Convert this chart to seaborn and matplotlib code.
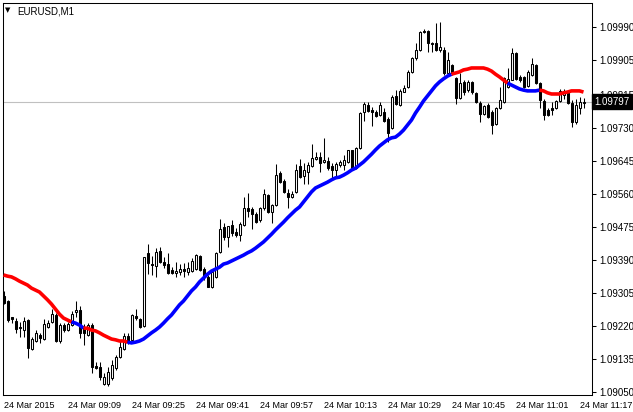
import matplotlib
matplotlib.use("Agg")
import matplotlib.pyplot as plt
import matplotlib.transforms as mtransforms
import seaborn as sns
import pandas as pd
import numpy as np

# ---------------- data (EURUSD M1, 24 Mar 2015, 08:53 .. 11:18) ----------------
open_ = [1.09297,1.09284,1.09243,1.09232,1.09217,1.09209,1.09235,1.09160,1.09181,1.09196,
         1.09186,1.09217,1.09230,1.09248,1.09181,1.09222,1.09209,1.09222,1.09256,1.09261,
         1.09214,1.09196,1.09222,1.09117,1.09114,1.09070,1.09070,1.09086,1.09111,1.09140,
         1.09160,1.09194,1.09184,1.09245,1.09238,1.09220,1.09408,1.09379,1.09374,1.09413,
         1.09384,1.09379,1.09364,1.09356,1.09359,1.09366,1.09359,1.09361,1.09366,1.09400,
         1.09366,1.09346,1.09320,1.09346,1.09410,1.09474,1.09449,1.09480,1.09462,1.09454,
         1.09480,1.09523,1.09521,1.09508,1.09493,1.09523,1.09557,1.09513,1.09531,1.09614,
         1.09593,1.09562,1.09552,1.09565,1.09632,1.09606,1.09616,1.09632,1.09650,1.09655,
         1.09642,1.09644,1.09632,1.09621,1.09634,1.09634,1.09642,1.09673,1.09626,1.09678,
         1.09771,1.09789,1.09776,1.09771,1.09763,1.09771,1.09753,1.09729,1.09812,1.09789,
         1.09822,1.09835,1.09874,1.09910,1.09930,1.09979,1.09979,1.09948,1.09948,1.09930,
         1.09930,1.09871,1.09892,1.09858,1.09807,1.09848,1.09827,1.09848,1.09820,1.09794,
         1.09765,1.09789,1.09771,1.09740,1.09781,1.09796,1.09835,1.09853,1.09923,1.09861,
         1.09861,1.09838,1.09866,1.09892,1.09845,1.09799,1.09776,1.09781,1.09781,1.09799,
         1.09814,1.09820,1.09794,1.09745,1.09781,1.09794]
high = [1.09310,1.09287,1.09243,1.09240,1.09230,1.09243,1.09238,1.09191,1.09209,1.09202,
        1.09238,1.09235,1.09263,1.09253,1.09227,1.09227,1.09230,1.09258,1.09284,1.09271,
        1.09225,1.09227,1.09227,1.09127,1.09127,1.09099,1.09114,1.09132,1.09145,1.09184,
        1.09202,1.09202,1.09250,1.09263,1.09240,1.09397,1.09431,1.09400,1.09420,1.09423,
        1.09397,1.09408,1.09371,1.09384,1.09379,1.09382,1.09384,1.09395,1.09405,1.09402,
        1.09371,1.09351,1.09364,1.09410,1.09495,1.09485,1.09477,1.09493,1.09472,1.09487,
        1.09552,1.09562,1.09526,1.09513,1.09526,1.09572,1.09559,1.09534,1.09637,1.09619,
        1.09598,1.09572,1.09567,1.09637,1.09650,1.09639,1.09642,1.09688,1.09668,1.09668,
        1.09704,1.09655,1.09639,1.09642,1.09647,1.09660,1.09673,1.09673,1.09680,1.09771,
        1.09796,1.09796,1.09783,1.09776,1.09796,1.09781,1.09758,1.09814,1.09827,1.09830,
        1.09840,1.09879,1.09912,1.09948,1.09979,1.09984,1.09982,1.09951,1.10000,1.10002,
        1.09938,1.09925,1.09894,1.09861,1.09871,1.09853,1.09853,1.09850,1.09822,1.09799,
        1.09789,1.09794,1.09776,1.09783,1.09835,1.09861,1.09884,1.09935,1.09925,1.09866,
        1.09863,1.09879,1.09910,1.09894,1.09848,1.09804,1.09781,1.09796,1.09802,1.09830,
        1.09830,1.09825,1.09802,1.09804,1.09809,1.09807]
low = [1.09276,1.09230,1.09227,1.09202,1.09191,1.09191,1.09137,1.09158,1.09178,1.09176,
       1.09184,1.09214,1.09227,1.09178,1.09176,1.09204,1.09207,1.09220,1.09243,1.09189,
       1.09171,1.09194,1.09099,1.09109,1.09081,1.09068,1.09065,1.09081,1.09106,1.09137,
       1.09158,1.09173,1.09181,1.09235,1.09214,1.09217,1.09353,1.09351,1.09346,1.09382,
       1.09369,1.09353,1.09353,1.09346,1.09351,1.09346,1.09351,1.09359,1.09364,1.09361,
       1.09338,1.09320,1.09317,1.09343,1.09408,1.09441,1.09423,1.09451,1.09449,1.09438,
       1.09477,1.09500,1.09469,1.09485,1.09487,1.09518,1.09511,1.09485,1.09529,1.09588,
       1.09562,1.09523,1.09549,1.09562,1.09601,1.09585,1.09585,1.09629,1.09647,1.09616,
       1.09639,1.09621,1.09596,1.09601,1.09629,1.09621,1.09639,1.09621,1.09624,1.09675,
       1.09747,1.09771,1.09735,1.09758,1.09760,1.09745,1.09693,1.09727,1.09789,1.09786,
       1.09822,1.09832,1.09871,1.09905,1.09928,1.09974,1.09925,1.09925,1.09928,1.09925,
       1.09866,1.09863,1.09866,1.09791,1.09804,1.09814,1.09822,1.09817,1.09794,1.09745,
       1.09763,1.09755,1.09714,1.09737,1.09778,1.09794,1.09832,1.09853,1.09853,1.09848,
       1.09832,1.09835,1.09863,1.09843,1.09781,1.09750,1.09760,1.09763,1.09778,1.09796,
       1.09804,1.09791,1.09732,1.09740,1.09765,1.09781]
close = [1.09279,1.09235,1.09238,1.09212,1.09214,1.09232,1.09163,1.09186,1.09202,1.09189,
         1.09225,1.09227,1.09250,1.09181,1.09222,1.09209,1.09225,1.09250,1.09261,1.09202,
         1.09202,1.09222,1.09114,1.09111,1.09088,1.09088,1.09101,1.09119,1.09140,1.09165,
         1.09194,1.09178,1.09248,1.09240,1.09217,1.09397,1.09382,1.09377,1.09410,1.09384,
         1.09377,1.09356,1.09356,1.09361,1.09366,1.09361,1.09369,1.09387,1.09402,1.09364,
         1.09346,1.09320,1.09359,1.09408,1.09469,1.09449,1.09477,1.09459,1.09454,1.09482,
         1.09523,1.09516,1.09508,1.09487,1.09523,1.09559,1.09513,1.09531,1.09608,1.09590,
         1.09565,1.09552,1.09559,1.09621,1.09603,1.09621,1.09634,1.09652,1.09655,1.09639,
         1.09647,1.09626,1.09621,1.09637,1.09642,1.09647,1.09673,1.09626,1.09678,1.09768,
         1.09791,1.09773,1.09771,1.09760,1.09789,1.09747,1.09717,1.09809,1.09791,1.09825,
         1.09832,1.09874,1.09910,1.09930,1.09977,1.09977,1.09948,1.09946,1.09930,1.09938,
         1.09871,1.09905,1.09871,1.09807,1.09845,1.09822,1.09848,1.09822,1.09796,1.09765,
         1.09786,1.09758,1.09737,1.09781,1.09802,1.09858,1.09856,1.09923,1.09856,1.09853,
         1.09835,1.09874,1.09894,1.09845,1.09802,1.09763,1.09763,1.09776,1.09799,1.09825,
         1.09822,1.09794,1.09745,1.09789,1.09796,1.09797]
ma = [1.09351,1.09348,1.09346,1.09341,1.09335,1.09330,1.09325,1.09317,1.09312,1.09307,
      1.09297,1.09287,1.09276,1.09263,1.09250,1.09240,1.09235,1.09230,1.09227,1.09222,
      1.09214,1.09214,1.09209,1.09207,1.09202,1.09196,1.09191,1.09186,1.09184,1.09181,
      1.09181,1.09178,1.09176,1.09178,1.09181,1.09186,1.09194,1.09202,1.09209,1.09217,
      1.09227,1.09238,1.09248,1.09261,1.09274,1.09284,1.09297,1.09310,1.09320,1.09333,
      1.09343,1.09353,1.09361,1.09366,1.09371,1.09379,1.09382,1.09387,1.09392,1.09397,
      1.09402,1.09408,1.09413,1.09420,1.09428,1.09436,1.09446,1.09456,1.09467,1.09477,
      1.09487,1.09498,1.09508,1.09518,1.09526,1.09539,1.09552,1.09565,1.09575,1.09580,
      1.09585,1.09590,1.09596,1.09601,1.09603,1.09608,1.09614,1.09621,1.09626,1.09634,
      1.09642,1.09652,1.09662,1.09673,1.09683,1.09691,1.09699,1.09704,1.09706,1.09714,
      1.09724,1.09737,1.09750,1.09768,1.09783,1.09799,1.09812,1.09825,1.09838,1.09848,
      1.09856,1.09863,1.09868,1.09871,1.09874,1.09879,1.09881,1.09884,1.09884,1.09884,
      1.09884,1.09881,1.09876,1.09868,1.09861,1.09853,1.09845,1.09840,1.09835,1.09830,
      1.09827,1.09825,1.09825,1.09825,1.09827,1.09825,1.09820,1.09817,1.09817,1.09817,
      1.09820,1.09822,1.09825,1.09825,1.09825,1.09822]
trend_runs = [("down", 18), ("up", 3), ("down", 11), ("up", 81),
              ("down", 14), ("up", 8), ("down", 11)]
x_tick_bars = [0, 16, 32, 48, 64, 80, 96, 112, 128, 144]
x_tick_labels = ["24 Mar 2015", "24 Mar 09:09", "24 Mar 09:25", "24 Mar 09:41",
                 "24 Mar 09:57", "24 Mar 10:13", "24 Mar 10:29", "24 Mar 10:45",
                 "24 Mar 11:01", "24 Mar 11:17"]
y_ticks = [1.09990, 1.09905, 1.09815, 1.09730, 1.09645, 1.09560,
           1.09475, 1.09390, 1.09305, 1.09220, 1.09135, 1.09050]
current_price = 1.09797
symbol_title = "EURUSD,M1"

# ---------------- style ----------------
sns.set_style("white")
plt.rcParams['font.family'] = ['Liberation Sans', 'DejaVu Sans']
plt.rcParams['font.size'] = 7

W, H = 633, 412
fig = plt.figure(figsize=(W / 100, H / 100), dpi=100)
fig.patch.set_facecolor("white")
left_px, right_px, top_px, bot_px = 2.5, 592.0, 2.5, 395.0
ax = fig.add_axes([left_px / W, 1 - bot_px / H, (right_px - left_px) / W, (bot_px - top_px) / H])
ax.set_facecolor("white")

df = pd.DataFrame({"bar": np.arange(len(close)), "open": open_, "high": high,
                   "low": low, "close": close, "ma": ma})

# wicks
ax.vlines(df["bar"], df["low"], df["high"], color="black", lw=0.75, zorder=2)
# bodies
bull = df["close"] >= df["open"]
body_bottom = np.minimum(df["open"], df["close"])
body_height = np.abs(df["close"] - df["open"])
ax.bar(df["bar"], body_height, bottom=body_bottom, width=0.5,
       color=np.where(bull, "white", "black"), edgecolor="black", linewidth=0.75, zorder=3)

# moving average with trend colouring
colors = {"up": "#0000ff", "down": "#ff0000"}
start = 0
for trend, n in trend_runs:
    s = max(start - 1, 0)
    seg = df.iloc[s:start + n]
    sns.lineplot(data=seg, x="bar", y="ma", ax=ax, color=colors[trend], lw=2.6,
                 zorder=5, legend=False, solid_capstyle="butt")
    start += n

# current price line
ax.axhline(current_price, color="#c0c0c0", lw=0.8, zorder=1)

# axes limits (price per pixel scale)
ax.set_xlim(-0.25, 147.125)
ax.set_ylim(1.090419, 1.100526)

# ticks
ax.yaxis.tick_right()
ax.set_yticks(y_ticks)
ax.set_yticklabels([f"{v:.5f}" for v in y_ticks])
ax.set_xticks(x_tick_bars)
ax.set_xticklabels(x_tick_labels)
for lab in ax.get_xticklabels():
    lab.set_ha("left")
ax.tick_params(axis="y", direction="out", length=3, width=0.75, pad=2, labelsize=7, colors="black")
ax.tick_params(axis="x", direction="out", length=3, width=0.75, pad=1.5, labelsize=6.5, colors="black")
ax.set_xlabel("")
ax.set_ylabel("")
for sp in ax.spines.values():
    sp.set_color("black")
    sp.set_linewidth(0.75)
    sp.set_visible(True)

# current price label box
trans = mtransforms.blended_transform_factory(ax.transAxes, ax.transData)
ax.text(1.004, current_price, f"{current_price:.5f}", transform=trans, ha="left", va="center",
        color="white", fontsize=7, clip_on=False, zorder=10,
        bbox=dict(boxstyle="square,pad=0.25", fc="black", ec="black"))

# title
fig.text(17 / W, 1 - 11 / H, symbol_title, ha="left", va="center", fontsize=7, color="black")
fig.text(8 / W, 1 - 10.5 / H, "\u25BC", ha="center", va="center", fontsize=5, color="black",
         family=["DejaVu Sans"])

fig.savefig("out.png", dpi=100, facecolor="white")
